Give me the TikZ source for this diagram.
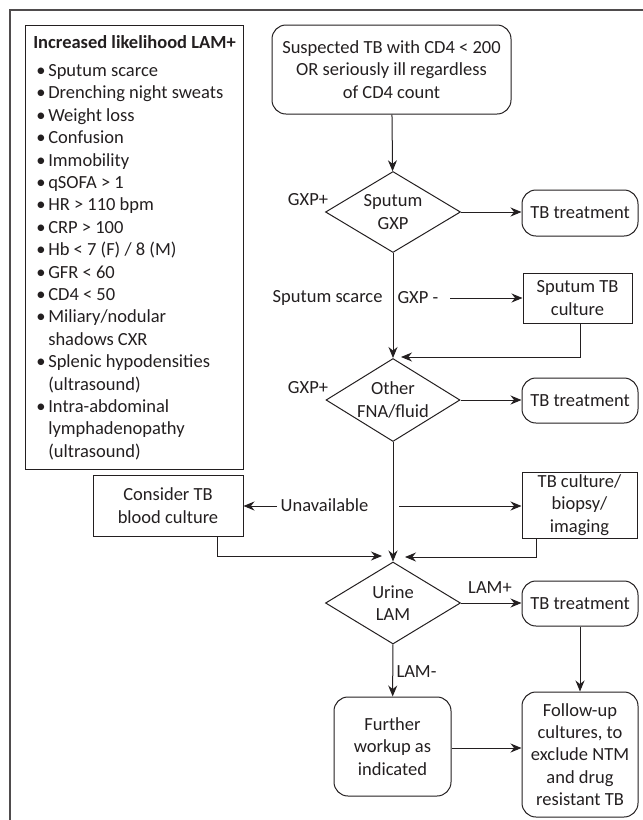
\documentclass[tikz,border=0pt]{standalone}
\usepackage{fontspec}
\setmainfont{Carlito}
\usepackage{xcolor}
\usepackage{tikz}
\usetikzlibrary{arrows.meta,shapes.geometric}

\definecolor{inkline}{HTML}{231F20}
\newcommand{\lamitem}[1]{\hspace*{3pt}\makebox[12pt][l]{\textbullet}#1}
\newcommand{\lamcont}[1]{\hspace*{15pt}#1}

\begin{document}
\begin{tikzpicture}[x=1pt,y=-1pt,
    every node/.style={font=\fontsize{18.5}{22.4}\selectfont, text=inkline},
    flowbox/.style={draw=inkline, line width=1pt, align=center, inner sep=0pt},
    roundbox/.style={flowbox, rounded corners=14pt},
    decision/.style={flowbox, diamond, aspect=1.65},
    lbl/.style={inner sep=0pt}]
\useasboundingbox (0,0) rectangle (643,820);
\begin{scope}[>={Stealth[length=11pt,width=9pt]}, line width=1pt, draw=inkline]
    % frame of the figure
    \draw[line width=1.6pt, draw=inkline!80] (643,10) -- (10,10) -- (10,820);

    % list on the left
    \node[flowbox, anchor=north west, minimum width=218, minimum height=444,
          align=left] (likely) at (25,25)
         {\textbf{Increased likelihood LAM+}\\[6pt]
          \lamitem{Sputum scarce}\\
          \lamitem{Drenching night sweats}\\
          \lamitem{Weight loss}\\
          \lamitem{Confusion}\\
          \lamitem{Immobility}\\
          \lamitem{qSOFA > 1}\\
          \lamitem{HR > 110 bpm}\\
          \lamitem{CRP > 100}\\
          \lamitem{Hb < 7 (F) / 8 (M)}\\
          \lamitem{GFR < 60}\\
          \lamitem{CD4 < 50}\\
          \lamitem{Miliary/nodular}\\
          \lamcont{shadows CXR}\\
          \lamitem{Splenic hypodensities}\\
          \lamcont{(ultrasound)}\\
          \lamitem{Intra-abdominal}\\
          \lamcont{lymphadenopathy}\\
          \lamcont{(ultrasound)}};

    % main column
    \node[roundbox, minimum width=239, minimum height=89] (start) at (391.5,69.5)
         {Suspected TB with CD4 < 200\\OR seriously ill regardless\\of CD4 count};
    \node[decision, minimum width=135, minimum height=81] (dgxp) at (393,212)
         {Sputum\\GXP};
    \node[decision, minimum width=134, minimum height=83] (dother) at (393,400)
         {Other\\FNA/fluid};
    \node[decision, minimum width=135, minimum height=82] (durine) at (393,603)
         {Urine\\LAM};
    \node[roundbox, minimum width=117, minimum height=99] (further) at (392.5,746.5)
         {Further\\workup as\\indicated};

    % right column
    \node[roundbox, minimum width=116, minimum height=46] (tbtreatA) at (580,213)
         {TB treatment};
    \node[flowbox, minimum width=109, minimum height=50] (sputcult) at (577.5,298)
         {Sputum TB\\culture};
    \node[roundbox, minimum width=116, minimum height=45] (tbtreatB) at (580,400.5)
         {TB treatment};
    \node[flowbox, minimum width=115, minimum height=66] (tbcult) at (579.5,505)
         {TB culture/\\biopsy/\\imaging};
    \node[roundbox, minimum width=116, minimum height=45] (tbtreatC) at (580,603.5)
         {TB treatment};
    \node[roundbox, minimum width=116, minimum height=125] (followup) at (580,754.5)
         {Follow-up\\cultures, to\\exclude NTM\\and drug\\resistant TB};

    % left of the column
    \node[flowbox, minimum width=150, minimum height=61] (consider) at (168,505.5)
         {Consider TB\\blood culture};

    % labels
    \node[lbl] (lblgxpA) at (308,200) {GXP+};
    \node[lbl, anchor=east] (lblscarce) at (383,298) {Sputum scarce};
    \node[lbl, anchor=west] (lblgxpneg) at (397,298) {GXP -};
    \node[lbl] (lblgxpB) at (308,388) {GXP+};
    \node[lbl] (lblunavail) at (324.5,505) {Unavailable};
    \node[lbl] (lbllampos) at (490,588) {LAM+};
    \node[lbl, anchor=west] (lbllamneg) at (396,672) {LAM-};

    \coordinate (negstart) at (450,298);
    \coordinate (joinA) at (401,357);
    \coordinate (availR) at (399,506);
    \coordinate (availL) at (277,506);
    \coordinate (joinL) at (382,556);
    \coordinate (joinR) at (405,557);

    % connectors
    \draw[->] (start) -- (dgxp);
    \draw[->] (dgxp.east) -- (dgxp.east -| tbtreatA.west);
    \draw[->] (dgxp) -- (dother);
    \draw[->] (negstart) -- (negstart -| sputcult.west);
    \draw[->] ([xshift=2.5pt]sputcult.south) |- (joinA);
    \draw[->] (dother.east) -- (dother.east -| tbtreatB.west);
    \draw[->] (dother) -- (durine);
    \draw[->] (availR) -- (availR -| tbcult.west);
    \draw[->] (availL) -- (availL -| consider.east);
    \draw[->] ([xshift=-26pt]consider.south east) |- (joinL);
    \draw[->] ([xshift=15pt]tbcult.south west) |- (joinR);
    \draw[->] (durine.east) -- (durine.east -| tbtreatC.west);
    \draw[->] (tbtreatC) -- (followup);
    \draw[->] (durine) -- (further);
    \draw[->] ([yshift=-1.5pt]further.east) -- ([yshift=-1.5pt]further.east -| followup.west);
\end{scope}
\end{tikzpicture}
\end{document}
